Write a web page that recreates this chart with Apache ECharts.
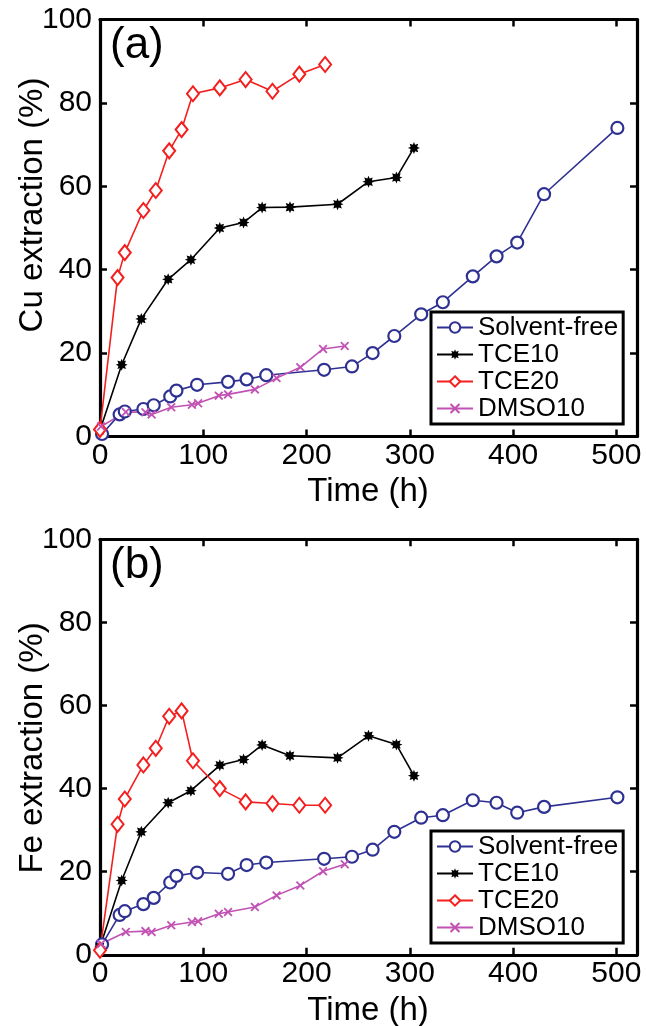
<!DOCTYPE html>
<html>
<head>
<meta charset="utf-8">
<script src="https://cdn.jsdelivr.net/npm/echarts@6/dist/echarts.min.js"></script>
<style>
html,body{margin:0;padding:0;background:#fff;}
#chart{width:646px;height:1026px;}
</style>
</head>
<body>
<div id="chart"></div>
<script>
// ---- Data ----
const seriesNames = ['Solvent-free', 'TCE10', 'TCE20', 'DMSO10'];
const xTicks = [0, 100, 200, 300, 400, 500];
const yTicks = [0, 20, 40, 60, 80, 100];

const tSolvent = [2, 19, 24, 42, 52, 68, 74, 94, 124, 142, 161, 217, 244, 264, 285, 311, 332, 361, 384, 404, 430, 501];
const cuSolvent = [0.6, 5.3, 6.0, 6.6, 7.5, 9.6, 11.0, 12.4, 13.1, 13.7, 14.7, 16.0, 16.8, 20.0, 24.1, 29.3, 32.2, 38.4, 43.2, 46.5, 58.1, 74.0];
const feSolvent = [2.5, 9.6, 10.5, 12.2, 13.7, 17.4, 19.0, 19.8, 19.5, 21.6, 22.2, 23.1, 23.6, 25.3, 29.6, 33.0, 33.6, 37.2, 36.6, 34.2, 35.6, 37.9];

const tTCE10 = [0, 21, 40, 66, 88, 116, 139, 157, 184, 230, 260, 287, 304];
const cuTCE10 = [1.5, 17.2, 28.2, 37.7, 42.4, 50.0, 51.3, 54.9, 55.0, 55.7, 61.1, 62.1, 69.2];
const feTCE10 = [1.9, 17.9, 29.6, 36.6, 39.5, 45.6, 47.0, 50.5, 47.9, 47.4, 52.7, 50.6, 43.1];

const tTCE20 = [0, 17, 24, 42, 54, 67, 79, 90, 116, 141, 167, 193, 218];
const cuTCE20 = [1.7, 38.1, 44.1, 54.2, 59.0, 68.5, 73.6, 82.2, 83.6, 85.6, 82.8, 86.9, 89.2];
const feTCE20 = [1.1, 31.4, 37.5, 45.7, 49.7, 57.4, 58.7, 46.7, 40.0, 36.8, 36.4, 36.0, 36.0];

const tDMSO = [1, 25, 44, 50, 69, 89, 95, 115, 124, 150, 171, 194, 216, 237];
const cuDMSO = [2.4, 5.9, 5.8, 5.3, 7.0, 7.6, 8.0, 9.8, 10.1, 11.3, 14.0, 16.6, 21.0, 21.7];
const feDMSO = [2.6, 5.5, 5.7, 5.5, 7.1, 7.9, 8.1, 9.9, 10.3, 11.5, 14.3, 16.7, 20.1, 21.8];

// ---- Styling ----
const FONT = '"Liberation Sans", Arial, Helvetica, sans-serif';
const COLORS = {'Solvent-free': '#2e3192', 'TCE10': '#000000', 'TCE20': '#f41f1f', 'DMSO10': '#c152b4'};
const STAR = 'path://M100,50 L77,59.5 L85.36,85.36 L59.5,77 L50,100 L40.5,77 L14.64,85.36 L23,59.5 L0,50 L23,40.5 L14.64,14.64 L40.5,23 L50,0 L59.5,23 L85.36,14.64 L77,40.5 Z';
const XMARK = 'path://M0,14 L14,0 L50,36 L86,0 L100,14 L64,50 L100,86 L86,100 L50,64 L14,100 L0,86 L36,50 Z';

function pairs(t, v) { return t.map((x, i) => [x, v[i]]); }

function makeSeries(name, t, v, gi) {
  const c = COLORS[name];
  let sym = {}, item = {};
  if (name === 'Solvent-free') { sym = {symbol: 'circle', symbolSize: 12}; item = {color: '#fff', borderColor: c, borderWidth: 2.2}; }
  if (name === 'TCE10') { sym = {symbol: STAR, symbolSize: 12}; item = {color: c, borderWidth: 0}; }
  if (name === 'TCE20') { sym = {symbol: 'diamond', symbolSize: [12, 15]}; item = {color: '#fff', borderColor: c, borderWidth: 2}; }
  if (name === 'DMSO10') { sym = {symbol: XMARK, symbolSize: 9}; item = {color: c, borderWidth: 0}; }
  return Object.assign({
    name: name, type: 'line', xAxisIndex: gi * 2, yAxisIndex: gi * 2,
    data: pairs(t, v), showAllSymbol: true, animation: false,
    lineStyle: {color: c, width: 1.6}, itemStyle: item
  }, sym);
}

const grids = [
  {left: 100, top: 19.5, width: 537, height: 417},
  {left: 100, top: 539.3, width: 537, height: 415.5}
];

function xAxes(gi) {
  const base = {type: 'value', gridIndex: gi, min: 0, max: 520, interval: 100,
    splitLine: {show: false},
    axisLine: {show: true, onZero: false, lineStyle: {color: '#000', width: 3.2}},
    axisTick: {show: true, inside: true, length: 7, lineStyle: {color: '#000', width: 2.5}}};
  return [
    Object.assign({}, base, {position: 'bottom',
      axisLabel: {show: true, margin: 4, fontSize: 30, color: '#000', fontFamily: FONT, showMaxLabel: false,
        formatter: v => (xTicks.indexOf(v) >= 0 ? String(v) : '')}}),
    Object.assign({}, base, {position: 'top', axisLabel: {show: false}})
  ];
}
function yAxes(gi) {
  const base = {type: 'value', gridIndex: gi, min: 0, max: 100, interval: 20,
    splitLine: {show: false},
    axisLine: {show: true, onZero: false, lineStyle: {color: '#000', width: 3.2}},
    axisTick: {show: true, inside: true, length: 7, lineStyle: {color: '#000', width: 2.5}}};
  return [
    Object.assign({}, base, {position: 'left',
      axisLabel: {show: true, margin: 8, fontSize: 30, color: '#000', fontFamily: FONT,
        formatter: v => (yTicks.indexOf(v) >= 0 ? String(v) : '')}}),
    Object.assign({}, base, {position: 'right', axisLabel: {show: false}})
  ];
}

function legendAt(top) {
  return {
    orient: 'vertical', left: 431, top: top, itemWidth: 36, itemHeight: 13, itemGap: 0,
    padding: [2, 5, 2, 5], borderColor: '#000', borderWidth: 3, backgroundColor: '#fff',
    textStyle: {fontSize: 26, fontFamily: FONT, color: '#000', lineHeight: 27},
    selectedMode: false, data: seriesNames
  };
}

const option = {
  backgroundColor: '#fff',
  animation: false,
  grid: grids,
  xAxis: xAxes(0).concat(xAxes(1)),
  yAxis: yAxes(0).concat(yAxes(1)),
  legend: [legendAt(312), legendAt(831)],
  series: [
    makeSeries('Solvent-free', tSolvent, cuSolvent, 0),
    makeSeries('TCE10', tTCE10, cuTCE10, 0),
    makeSeries('TCE20', tTCE20, cuTCE20, 0),
    makeSeries('DMSO10', tDMSO, cuDMSO, 0),
    makeSeries('Solvent-free', tSolvent, feSolvent, 1),
    makeSeries('TCE10', tTCE10, feTCE10, 1),
    makeSeries('TCE20', tTCE20, feTCE20, 1),
    makeSeries('DMSO10', tDMSO, feDMSO, 1)
  ],
  graphic: [
    {type: 'text', left: 110, top: 24, style: {text: '(a)', fontSize: 44, fontFamily: FONT, fill: '#000'}},
    {type: 'text', left: 110, top: 544, style: {text: '(b)', fontSize: 44, fontFamily: FONT, fill: '#000'}},
    {type: 'text', x: 33, y: 205, rotation: Math.PI / 2,
      style: {text: 'Cu extraction (%)', fontSize: 33, fontFamily: FONT, fill: '#000', align: 'center', verticalAlign: 'middle'}},
    {type: 'text', x: 33, y: 748, rotation: Math.PI / 2,
      style: {text: 'Fe extraction (%)', fontSize: 33, fontFamily: FONT, fill: '#000', align: 'center', verticalAlign: 'middle'}},
    {type: 'text', x: 368, y: 492, style: {text: 'Time (h)', fontSize: 33, fontFamily: FONT, fill: '#000', align: 'center', verticalAlign: 'middle'}},
    {type: 'text', x: 368, y: 1011, style: {text: 'Time (h)', fontSize: 33, fontFamily: FONT, fill: '#000', align: 'center', verticalAlign: 'middle'}}
  ]
};

const chart = echarts.init(document.getElementById('chart'), null, {renderer: 'canvas'});
chart.setOption(option);
</script>
</body>
</html>
